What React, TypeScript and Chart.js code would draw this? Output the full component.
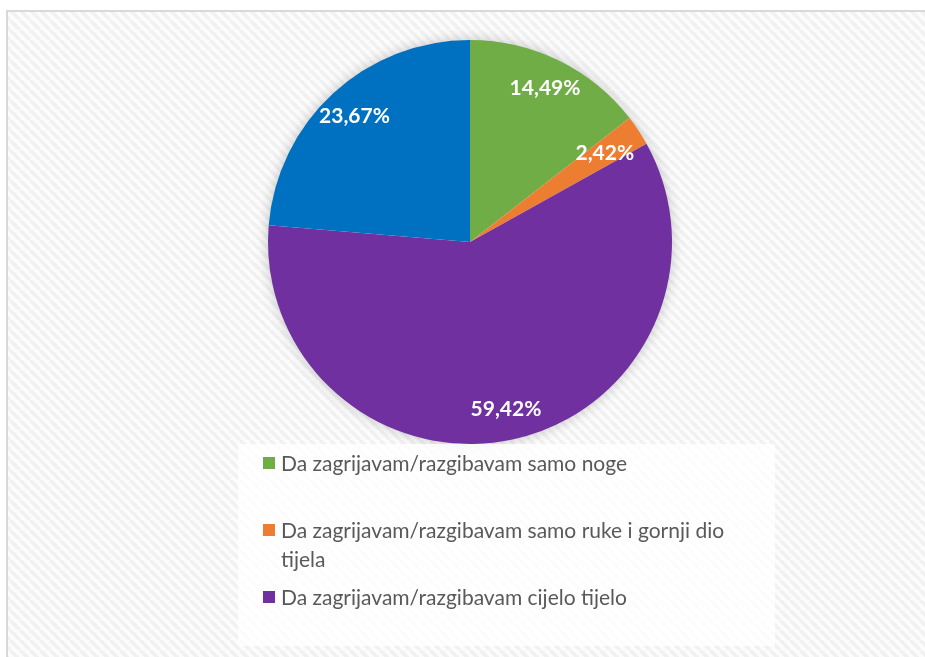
import React, { useEffect, useRef } from "react";
import { Chart, registerables } from "chart.js";

Chart.register(...registerables);

const categories = [
  "Da zagrijavam/razgibavam samo noge",
  "Da zagrijavam/razgibavam samo ruke i gornji dio tijela",
  "Da zagrijavam/razgibavam cijelo tijelo",
  "Ne zagrijavam se",
];
const values = [14.49, 2.42, 59.42, 23.67];
const valueLabels = ["14,49%", "2,42%", "59,42%", "23,67%"];
const colors = ["#70AD47", "#ED7D31", "#7030A0", "#0070C0"];
const legendShown = 3;

const FONT = "Lato, 'Open Sans', sans-serif";

function makePattern(ctx: CanvasRenderingContext2D) {
  const c = document.createElement("canvas");
  c.width = 10;
  c.height = 10;
  const p = c.getContext("2d")!;
  p.fillStyle = "#fcfcfc";
  p.fillRect(0, 0, 10, 10);
  p.strokeStyle = "#f1f1f1";
  p.lineWidth = 3.5;
  for (let k = -10; k <= 20; k += 10) {
    p.beginPath();
    p.moveTo(k, 0);
    p.lineTo(k + 10, 10);
    p.stroke();
  }
  return ctx.createPattern(c, "repeat");
}

const backgroundPlugin = {
  id: "bgHatch",
  beforeDraw(chart: any) {
    const ctx = chart.ctx as CanvasRenderingContext2D;
    ctx.save();
    ctx.fillStyle = "#ffffff";
    ctx.fillRect(0, 0, chart.width, chart.height);
    const pat = makePattern(ctx);
    if (pat) {
      ctx.fillStyle = pat;
      ctx.fillRect(8, 12, chart.width - 8, chart.height - 12);
    }
    ctx.strokeStyle = "#d9d9d9";
    ctx.lineWidth = 2;
    ctx.strokeRect(7, 11, chart.width + 20, chart.height + 20);
    ctx.restore();
  },
  beforeDatasetsDraw(chart: any) {
    const ctx = chart.ctx as CanvasRenderingContext2D;
    const arc = chart.getDatasetMeta(0).data[0];
    if (!arc) return;
    const { x, y, outerRadius } = arc.getProps(["x", "y", "outerRadius"], true);
    ctx.save();
    ctx.shadowColor = "rgba(0,0,0,0.25)";
    ctx.shadowBlur = 14;
    ctx.fillStyle = "#ffffff";
    ctx.beginPath();
    ctx.arc(x, y, outerRadius - 1, 0, Math.PI * 2);
    ctx.fill();
    ctx.restore();
  },
};

const labelPlugin = {
  id: "sliceLabels",
  afterDatasetsDraw(chart: any) {
    const ctx = chart.ctx as CanvasRenderingContext2D;
    const meta = chart.getDatasetMeta(0);
    ctx.save();
    ctx.fillStyle = "#ffffff";
    ctx.font = `bold 21px ${FONT}`;
    ctx.textAlign = "center";
    ctx.textBaseline = "middle";
    meta.data.forEach((el: any, i: number) => {
      const { x, y, startAngle, endAngle, outerRadius } = el.getProps(
        ["x", "y", "startAngle", "endAngle", "outerRadius"],
        true
      );
      const mid = (startAngle + endAngle) / 2;
      const r = outerRadius * (values[i] < 5 ? 0.8 : 0.845);
      ctx.fillText(valueLabels[i], x + Math.cos(mid) * r, y + Math.sin(mid) * r);
    });
    ctx.restore();
  },
};

const legendPlugin = {
  id: "boxLegend",
  afterDraw(chart: any) {
    const ctx = chart.ctx as CanvasRenderingContext2D;
    const box = { x: 238, y: 444, w: 537, h: 202 };
    ctx.save();
    ctx.fillStyle = "rgba(255,255,255,0.8)";
    ctx.fillRect(box.x, box.y, box.w, box.h);
    ctx.font = `21px ${FONT}`;
    ctx.textBaseline = "middle";
    const rowCenters = [463, 530, 597];
    const lineH = 29;
    const textX = 281;
    const maxW = 462;
    for (let i = 0; i < legendShown; i++) {
      const words = categories[i].split(" ");
      const lines: string[] = [];
      let cur = "";
      for (const w of words) {
        const t = cur ? cur + " " + w : w;
        if (ctx.measureText(t).width > maxW && cur) {
          lines.push(cur);
          cur = w;
        } else cur = t;
      }
      if (cur) lines.push(cur);
      const cy = rowCenters[i];
      ctx.fillStyle = colors[i];
      ctx.fillRect(263, cy - 6, 12, 12);
      ctx.fillStyle = "#595959";
      lines.forEach((ln, k) => ctx.fillText(ln, textX, cy + k * lineH + 1));
    }
    ctx.restore();
  },
};

export default function App() {
  const ref = useRef<HTMLCanvasElement>(null);
  useEffect(() => {
    if (!ref.current) return;
    const chart = new Chart(ref.current, {
      type: "pie",
      data: {
        labels: categories,
        datasets: [
          {
            data: values,
            backgroundColor: colors,
            borderWidth: 0,
          },
        ],
      },
      options: {
        responsive: false,
        animation: false,
        layout: { padding: { left: 268, right: 253, top: 40, bottom: 213 } },
        plugins: { legend: { display: false }, tooltip: { enabled: false } },
      },
      plugins: [backgroundPlugin, labelPlugin, legendPlugin],
    });
    return () => chart.destroy();
  }, []);
  return (
    <div style={{ position: "absolute", left: 0, top: 0, width: 925, height: 657 }}>
      <canvas ref={ref} width={925} height={657} />
    </div>
  );
}
